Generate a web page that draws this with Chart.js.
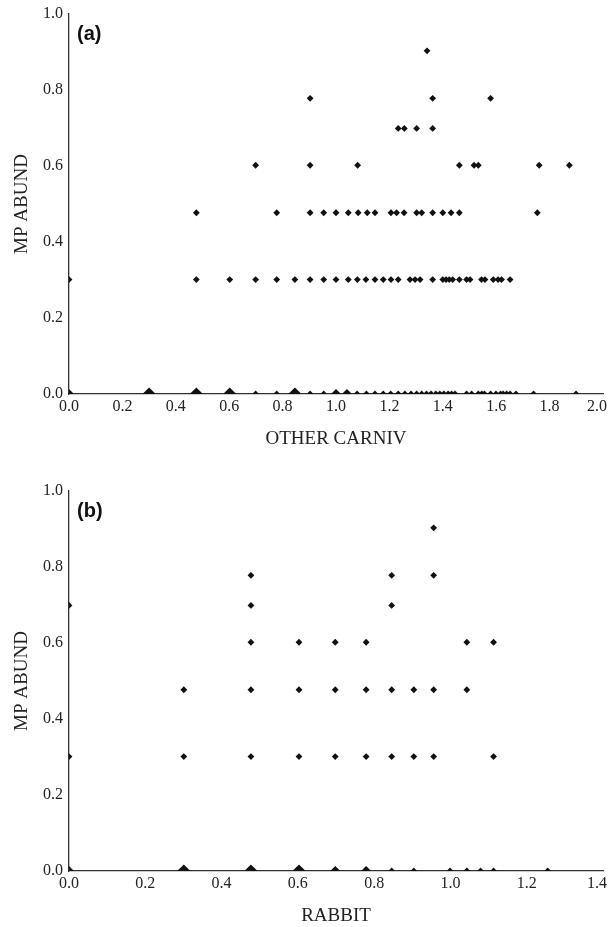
<!DOCTYPE html>
<html><head><meta charset="utf-8">
<script src="https://cdn.jsdelivr.net/npm/chart.js@4/dist/chart.umd.min.js"></script>
<style>
html,body{margin:0;padding:0;width:611px;height:927px;overflow:hidden;background:#fff;}
.panel{position:absolute;left:0;width:620px;height:470px;}
#pa{top:0;} #pb{top:477px;}
</style></head><body>
<div class="panel" id="pa"><canvas id="ca" width="620" height="470"></canvas></div>
<div class="panel" id="pb"><canvas id="cb" width="620" height="470"></canvas></div>
<script>
// ---------- axis ticks ----------
const mpTicks = [0, 0.2, 0.4, 0.6, 0.8, 1.0];
const carnivTicks = [0, 0.2, 0.4, 0.6, 0.8, 1.0, 1.2, 1.4, 1.6, 1.8, 2.0];
const rabbitTicks = [0, 0.2, 0.4, 0.6, 0.8, 1.0, 1.2, 1.4];

// ---------- MP ABUND levels ----------
const mpLevels = [0, 0.301, 0.477, 0.602, 0.699, 0.778, 0.903];

// ---------- panel (a): OTHER CARNIV values per MP ABUND level ----------
const carnivAt000 = [0, 0.3, 0.477, 0.602, 0.699, 0.778, 0.846, 0.903, 0.954,
  1.0, 1.041, 1.079, 1.114, 1.146, 1.177, 1.205, 1.233, 1.258, 1.281,
  1.302, 1.321, 1.339, 1.356, 1.374, 1.389, 1.404, 1.42, 1.433, 1.446,
  1.489, 1.508, 1.533, 1.546, 1.556, 1.579, 1.599, 1.616, 1.626, 1.639,
  1.652, 1.674, 1.74, 1.899];
const carnivCountAt000 = [2, 3, 3, 3, 1, 1, 3, 1, 1,
  2, 2, 1, 1, 1, 1, 1, 1, 1, 1,
  1, 1, 1, 1, 1, 1, 1, 1, 1, 1,
  1, 1, 1, 1, 1, 1, 1, 1, 1, 1,
  1, 1, 1, 1];
const carnivAt030 = [0, 0.477, 0.602, 0.699, 0.778, 0.846, 0.903, 0.954, 1.0, 1.046,
  1.08, 1.112, 1.146, 1.177, 1.206, 1.233, 1.277, 1.296, 1.315, 1.362, 1.40, 1.412,
  1.424, 1.437, 1.462, 1.489, 1.502, 1.545, 1.558, 1.589, 1.607, 1.62, 1.652];
const carnivAt048 = [0.477, 0.778, 0.903, 0.954, 1.0, 1.046, 1.083, 1.117, 1.146, 1.206,
  1.227, 1.255, 1.302, 1.321, 1.362, 1.40, 1.431, 1.462, 1.754];
const carnivAt060 = [0.699, 0.903, 1.081, 1.462, 1.517, 1.533, 1.761, 1.874];
const carnivAt070 = [1.233, 1.256, 1.302, 1.362];
const carnivAt078 = [0.903, 1.362, 1.579];
const carnivAt090 = [1.341];

// ---------- panel (b): RABBIT values per MP ABUND level ----------
const rabbitAt000 = [0, 0.301, 0.477, 0.603, 0.698, 0.779, 0.846, 0.904, 0.999, 1.043, 1.079, 1.113, 1.255];
const rabbitCountAt000 = [2, 3, 3, 3, 2, 2, 1, 1, 1, 1, 1, 1, 1];
const rabbitAt030 = [0, 0.301, 0.477, 0.603, 0.698, 0.779, 0.846, 0.904, 0.956, 1.113];
const rabbitAt048 = [0.301, 0.477, 0.603, 0.698, 0.779, 0.846, 0.904, 0.956, 1.043];
const rabbitAt060 = [0.477, 0.603, 0.698, 0.779, 1.043, 1.113];
const rabbitAt070 = [0, 0.477, 0.846];
const rabbitAt078 = [0.477, 0.846, 0.956];
const rabbitAt090 = [0.956];

function buildPoints(rows, counts0) {
  const pts = [];
  rows.forEach((xs, i) => {
    xs.forEach((x, j) => {
      pts.push({x: x, y: mpLevels[i], n: i === 0 ? counts0[j] : 1});
    });
  });
  return pts;
}

const panelLabel = {
  id: 'panelLabel',
  afterDraw(chart, args, opts) {
    const {ctx, chartArea} = chart;
    ctx.save();
    ctx.font = 'bold 20px "Liberation Sans", Arial, sans-serif';
    ctx.fillStyle = '#111';
    ctx.textBaseline = 'middle';
    ctx.textAlign = 'left';
    ctx.fillText(opts.text, chartArea.left + 8, chartArea.top + 20);
    ctx.restore();
  }
};

const serif = '"Liberation Serif", "Times New Roman", serif';
const markerRadius = c => (c.raw && c.raw.n ? 3.4 + (c.raw.n - 1) * 1.6 : 3.4);

function makeChart(id, points, xTicks, xTitle, label) {
  const xMax = xTicks[xTicks.length - 1];
  return new Chart(document.getElementById(id), {
    type: 'scatter',
    data: {datasets: [{
      data: points,
      pointStyle: 'rectRot',
      backgroundColor: '#111',
      borderColor: '#111',
      borderWidth: 0,
      pointRadius: markerRadius,
      pointHoverRadius: markerRadius,
      clip: 0
    }]},
    options: {
      responsive: false,
      animation: false,
      devicePixelRatio: 1,
      events: [],
      layout: {padding: {top: 14, right: 17, bottom: 0, left: 0}},
      plugins: {legend: {display: false}, tooltip: {enabled: false}, panelLabel: {text: label}},
      scales: {
        x: {
          type: 'linear', min: 0, max: xMax,
          afterFit: s => { s.height = 76; s.paddingLeft = 0; s.paddingRight = 0; },
          afterBuildTicks: s => { s.ticks = xTicks.map(v => ({value: v})); },
          grid: {display: false, drawTicks: false},
          border: {display: true, color: '#333', width: 1.3},
          ticks: {padding: 3, color: '#222', autoSkip: false, maxRotation: 0,
                  font: {family: serif, size: 16},
                  callback: v => (v === xMax ? Number(v).toFixed(1) + '\u00A0\u00A0\u00A0' : Number(v).toFixed(1))},
          title: {display: true, text: xTitle, color: '#222',
                  font: {family: serif, size: 19}, padding: {top: 0, bottom: 20}}
        },
        y: {
          type: 'linear', min: 0, max: 1,
          afterFit: s => { s.width = 69; s.paddingTop = 0; s.paddingBottom = 0; },
          afterBuildTicks: s => { s.ticks = mpTicks.map(v => ({value: v})); },
          grid: {display: false, drawTicks: false},
          border: {display: true, color: '#333', width: 1.3},
          ticks: {padding: 6, color: '#222', autoSkip: false,
                  font: {family: serif, size: 16}, callback: v => Number(v).toFixed(1)},
          title: {display: true, text: 'MP ABUND', color: '#222',
                  font: {family: serif, size: 19}, padding: {top: 11, bottom: 0}}
        }
      }
    },
    plugins: [panelLabel]
  });
}

makeChart('ca',
  buildPoints([carnivAt000, carnivAt030, carnivAt048, carnivAt060, carnivAt070, carnivAt078, carnivAt090], carnivCountAt000),
  carnivTicks, 'OTHER CARNIV', '(a)');
makeChart('cb',
  buildPoints([rabbitAt000, rabbitAt030, rabbitAt048, rabbitAt060, rabbitAt070, rabbitAt078, rabbitAt090], rabbitCountAt000),
  rabbitTicks, 'RABBIT', '(b)');
</script>
</body></html>
